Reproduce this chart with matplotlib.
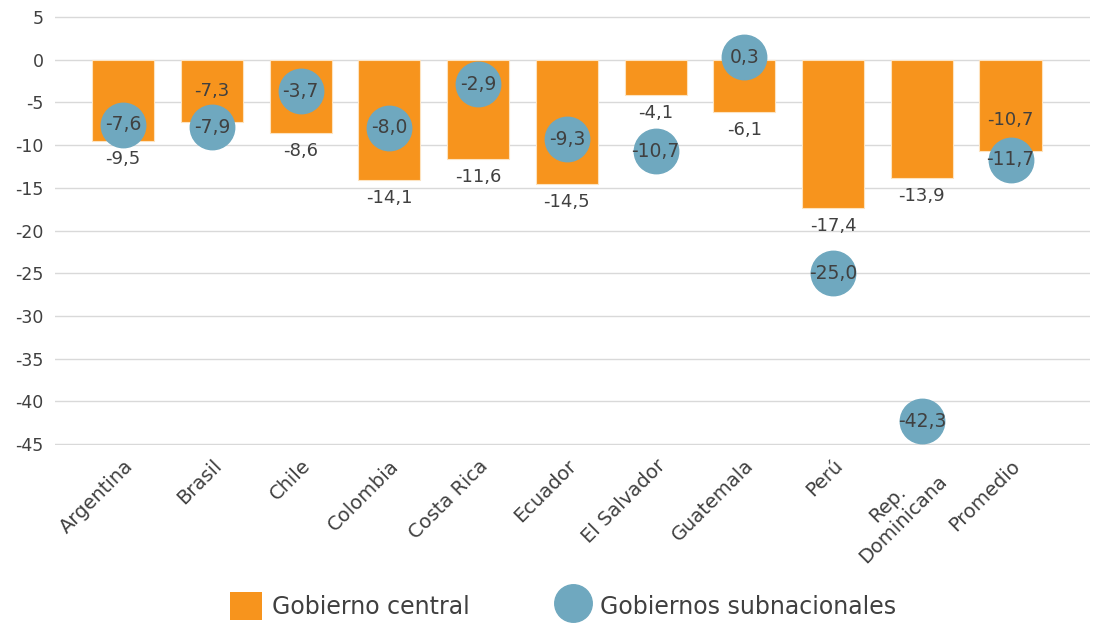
import numpy as np
import matplotlib
matplotlib.use("Agg")
import matplotlib.pyplot as plt
from matplotlib.patches import Patch
from matplotlib.lines import Line2D

plt.rcParams['font.family'] = ['DejaVu Sans']

# data
paises = ['Argentina', 'Brasil', 'Chile', 'Colombia', 'Costa Rica', 'Ecuador',
          'El Salvador', 'Guatemala', 'Perú', 'Rep.\nDominicana', 'Promedio']
central = [-9.5, -7.3, -8.6, -14.1, -11.6, -14.5, -4.1, -6.1, -17.4, -13.9, -10.7]
subnacional = [-7.6, -7.9, -3.7, -8.0, -2.9, -9.3, -10.7, 0.3, -25.0, -42.3, -11.7]
yticks = [5, 0, -5, -10, -15, -20, -25, -30, -35, -40, -45]

naranja = '#f7941d'
azul = '#6fa8bf'
gris = '#404040'

fig = plt.figure(figsize=(10.97, 6.23), dpi=100)
ax = fig.add_axes([0.05, 0.2857, 0.944, 0.6886])

x = np.arange(len(paises))
ax.bar(x, central, width=0.7, color=naranja, edgecolor='#fde3c0', linewidth=0.8, zorder=2)
ax.plot(x, subnacional, linestyle='none', marker='o', markersize=32,
        color=azul, zorder=3)

# etiquetas de las barras (la mayoria debajo, algunas dentro)
dentro = {1, 10}
for i, v in enumerate(central):
    txt = f'{v:.1f}'.replace('.', ',')
    dy = 22 if i in dentro else -13
    ax.annotate(txt, (x[i], v), xytext=(0, dy), textcoords='offset points',
                ha='center', va='center', fontsize=13, color=gris, zorder=4)

for i, v in enumerate(subnacional):
    ax.text(x[i], v, f'{v:.1f}'.replace('.', ','), ha='center', va='center',
            fontsize=13.5, color=gris, zorder=5)

ax.set_ylim(-45.1, 5.1)
ax.set_xlim(-0.77, 10.9)
ax.set_yticks(yticks)
ax.set_yticklabels([str(t) for t in yticks], fontsize=12.5, color=gris)
ax.set_xticks(x)
ax.set_xticklabels(paises, rotation=45, ha='right', rotation_mode='anchor',
                   fontsize=14, color=gris, multialignment='center')
ax.tick_params(length=0, pad=8)
ax.grid(axis='y', color='#d9d9d9', linewidth=1, zorder=0)
ax.set_axisbelow(True)
for s in ax.spines.values():
    s.set_visible(False)

handles = [Patch(facecolor=naranja, edgecolor='none', label='Gobierno central'),
           Line2D([], [], linestyle='none', marker='o', markersize=27, color=azul,
                  label='Gobiernos subnacionales')]
fig.legend(handles=handles, loc='center', bbox_to_anchor=(0.513, 0.027), ncol=2,
           frameon=False, fontsize=17, labelcolor=gris, handlelength=1.35,
           handleheight=1.45, columnspacing=3.7, handletextpad=0.45)

fig.savefig('out.png', dpi=100)
